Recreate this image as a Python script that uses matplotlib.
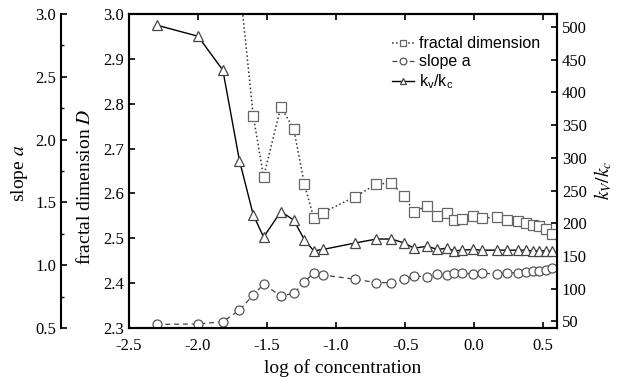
import matplotlib
matplotlib.use("Agg")
import matplotlib.pyplot as plt
import numpy as np
from matplotlib.ticker import MultipleLocator

plt.rcParams["font.family"] = ["Liberation Serif", "DejaVu Serif"]
plt.rcParams["mathtext.fontset"] = "stix"

# log of concentration (shared by all three series)
log_conc = [-2.30, -2.00, -1.82, -1.70, -1.60, -1.525, -1.40, -1.307, -1.23,
            -1.162, -1.097, -0.86, -0.708, -0.599, -0.507, -0.435, -0.34,
            -0.266, -0.20, -0.143, -0.09, -0.012, 0.058, 0.162, 0.236, 0.314,
            0.374, 0.425, 0.471, 0.519, 0.562]

# fractal dimension D (starts at log_conc[3], first point above the frame)
fractal_dim = [3.07, 2.773, 2.637, 2.793, 2.744, 2.621, 2.546, 2.557, 2.593,
               2.621, 2.623, 2.594, 2.559, 2.573, 2.550, 2.557, 2.541, 2.543,
               2.550, 2.545, 2.547, 2.541, 2.539, 2.533, 2.530, 2.527, 2.521,
               2.510]

slope_a = [0.529, 0.532, 0.550, 0.643, 0.763, 0.848, 0.755, 0.776, 0.864,
           0.940, 0.922, 0.888, 0.861, 0.861, 0.888, 0.916, 0.904, 0.928,
           0.922, 0.940, 0.940, 0.930, 0.936, 0.930, 0.940, 0.940, 0.948,
           0.956, 0.956, 0.962, 0.975]

kv_kc = [503, 486, 434, 296, 213, 179, 218, 205, 175, 158, 160, 170, 176, 176,
         170, 162, 165, 160, 162, 158, 159, 160, 159, 159, 159, 159, 159, 158,
         158, 158, 157]

x_ticks = [-2.5, -2.0, -1.5, -1.0, -0.5, 0.0, 0.5]

fig = plt.figure(figsize=(6.3, 3.81), dpi=100)
ax = fig.add_axes([129 / 630, 53 / 381, 428 / 630, 314 / 381])
ax_a = ax.twinx()
ax_k = ax.twinx()

tick_kw = dict(direction="in", length=4, width=1.2, labelsize=12)
mk = dict(markersize=6.5, markerfacecolor="white", markeredgewidth=0.9)

l1, = ax.plot(log_conc[3:], fractal_dim, ls=":", lw=1.1, color="#333333",
              marker="s", markeredgecolor="#666666", label="fractal dimension", **mk)
l2, = ax_a.plot(log_conc, slope_a, ls="--", lw=0.9, color="#444444", dashes=(4, 3),
                marker="o", markeredgecolor="#555555", label="slope a", **mk)
l3, = ax_k.plot(log_conc, kv_kc, ls="-", lw=1.0, color="black",
                marker="^", markeredgecolor="#444444",
                label=r"k$_\mathregular{v}$/k$_\mathregular{c}$", **mk)

# main axis: fractal dimension
ax.set_xlim(-2.5, 0.6)
ax.set_ylim(2.3, 3.0)
ax.set_xticks(x_ticks)
ax.set_xticklabels([f"{t:.1f}" for t in x_ticks])
ax.yaxis.set_major_locator(MultipleLocator(0.1))
ax.tick_params(axis="both", top=True, **tick_kw)
ax.tick_params(axis="x", pad=7)
ax.set_xlabel("log of concentration", fontsize=14, labelpad=4)
ax.set_ylabel("fractal dimension $D$", fontsize=14, va="center")
ax.yaxis.set_label_coords(-0.103, 0.45)
for s in ax.spines.values():
    s.set_linewidth(1.5)

# outer left axis: slope a
ax_a.set_ylim(0.5, 3.0)
ax_a.yaxis.set_ticks_position("left")
ax_a.yaxis.set_label_position("left")
ax_a.spines["left"].set_position(("outward", 49))
for side in ["right", "top", "bottom"]:
    ax_a.spines[side].set_visible(False)
ax_a.spines["left"].set_linewidth(1.5)
ax_a.yaxis.set_major_locator(MultipleLocator(0.5))
ax_a.yaxis.set_minor_locator(MultipleLocator(0.25))
ax_a.tick_params(axis="y", which="major", **tick_kw)
ax_a.tick_params(axis="y", which="minor", direction="in", length=2.5, width=1.0)
ax_a.set_ylabel("slope $a$", fontsize=14, va="center")
ax_a.yaxis.set_label_coords(-0.255, 0.494)

# right axis: kv/kc
ax_k.set_ylim(40, 520)
ax_k.yaxis.set_major_locator(MultipleLocator(50))
ax_k.tick_params(axis="y", **tick_kw)
ax_k.set_ylabel("$k_V/k_c$", fontsize=14, va="center")
ax_k.yaxis.set_label_coords(1.107, 0.47)
for s in ax_k.spines.values():
    s.set_linewidth(1.5)

ax_k.legend(handles=[l1, l2, l3], loc="upper left", bbox_to_anchor=(0.58, 0.975),
            frameon=False, prop={"family": "Liberation Sans", "size": 11.5},
            handlelength=1.4, handletextpad=0.3, labelspacing=0.2, markerscale=0.75)

fig.savefig("out.png", dpi=100)
